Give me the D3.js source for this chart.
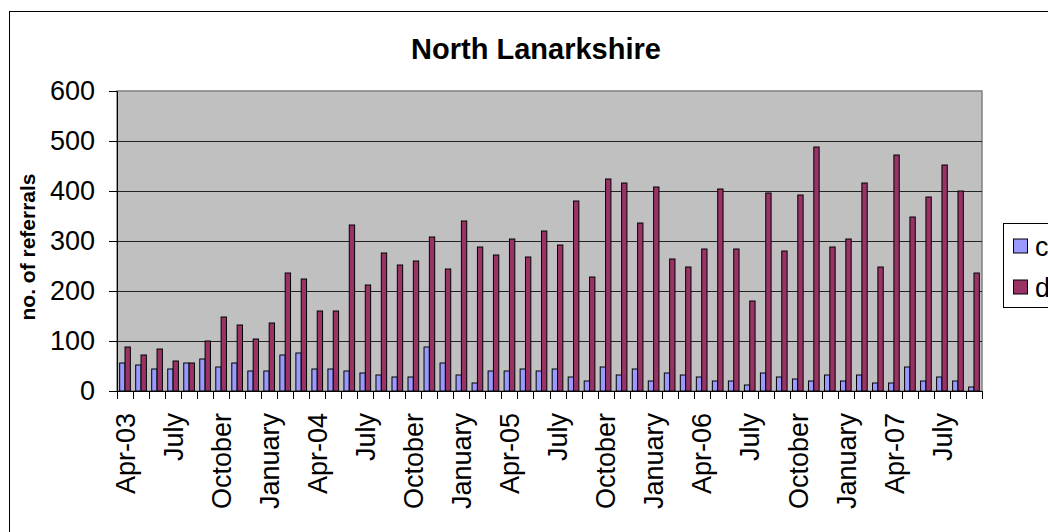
<!DOCTYPE html>
<html>
<head>
<meta charset="utf-8">
<script src="https://cdn.jsdelivr.net/npm/d3@7"></script>
<style>
  html, body { margin: 0; padding: 0; background: #fff; overflow: hidden; }
  svg { display: block; font-family: "Liberation Sans", Arial, sans-serif; }
</style>
</head>
<body>
<svg id="chart" width="1048" height="532"></svg>
<script>
const title = "North Lanarkshire";
const yAxisTitle = "no. of referrals";
const seriesNames = ["c", "d"];
const months = ["Apr-03","May","June","July","August","September","October","November","December","January","February","March",
  "Apr-04","May","June","July","August","September","October","November","December","January","February","March",
  "Apr-05","May","June","July","August","September","October","November","December","January","February","March",
  "Apr-06","May","June","July","August","September","October","November","December","January","February","March",
  "Apr-07","May","June","July","August","September"];
const categories = months.map((m, i) => i + ":" + m);
const seriesC = [56,52,44,44,56,64,48,56,40,40,72,76,44,44,40,
  36,32,28,28,88,56,32,16,40,40,44,40,44,28,20,
  48,32,44,20,36,32,28,20,20,12,36,28,24,20,32,
  20,32,16,16,48,20,28,20,8];
const seriesD = [88,72,84,60,56,100,148,132,104,136,236,224,160,160,332,
  212,276,252,260,308,244,340,288,272,304,268,320,292,380,228,
  424,416,336,408,264,248,284,404,284,180,396,280,392,488,288,
  304,416,248,472,348,388,452,400,236];
const yTicks = [0,100,200,300,400,500,600];
const colors = ["#9999FF", "#993366"];

const svg = d3.select("#chart");
const plot = {left: 117, top: 91, right: 982, bottom: 391};

// outer chart border
svg.append("rect").attr("x", 9.5).attr("y", 11.5).attr("width", 1200).attr("height", 700)
  .attr("fill", "#fff").attr("stroke", "#000").attr("stroke-width", 1);

const x = d3.scaleBand().domain(categories).range([plot.left, plot.right]).paddingInner(0).paddingOuter(0);
const xs = d3.scaleBand().domain([0,1]).range([0, x.bandwidth()]).paddingInner(0).paddingOuter(0.5);
const y = d3.scaleLinear().domain([0, 600]).range([plot.bottom, plot.top]);

// plot background
svg.append("rect").attr("x", plot.left).attr("y", plot.top)
  .attr("width", plot.right - plot.left).attr("height", plot.bottom - plot.top)
  .attr("fill", "#C0C0C0").attr("stroke", "#808080").attr("stroke-width", 1.5);

// gridlines
svg.append("g").selectAll("line").data(yTicks.filter(t => t > 0 && t < 600)).join("line")
  .attr("x1", plot.left).attr("x2", plot.right)
  .attr("y1", d => Math.round(y(d)) + 0.5).attr("y2", d => Math.round(y(d)) + 0.5)
  .attr("stroke", "#222").attr("stroke-width", 1);

// bars
const data = categories.map((c, i) => ({c, vals: [seriesC[i], seriesD[i]]}));
const groups = svg.append("g").selectAll("g").data(data).join("g")
  .attr("transform", d => `translate(${x(d.c)},0)`);
groups.selectAll("rect").data(d => d.vals.map((v, k) => ({v, k}))).join("rect")
  .attr("x", d => xs(d.k))
  .attr("y", d => y(d.v))
  .attr("width", xs.bandwidth())
  .attr("height", d => y(0) - y(d.v))
  .attr("fill", d => colors[d.k])
  .attr("stroke", "#000").attr("stroke-width", 1);

// y axis
const yAxis = d3.axisLeft(y).tickValues(yTicks).tickSize(8).tickPadding(14).tickFormat(d3.format("d"));
const gy = svg.append("g").attr("transform", `translate(${plot.left},0)`).call(yAxis);
gy.select(".domain").attr("stroke", "#000");
gy.selectAll(".tick line").attr("stroke", "#000");
gy.selectAll(".tick text").attr("font-size", 27).attr("fill", "#000")
  .attr("font-family", "Liberation Sans, Arial, sans-serif");

// x axis
const gx = svg.append("g").attr("transform", `translate(0,${plot.bottom})`);
gx.append("line").attr("x1", plot.left).attr("x2", plot.right).attr("y1", 0.5).attr("y2", 0.5).attr("stroke", "#000");
const boundaries = categories.map(c => x(c)).concat([plot.right]);
gx.selectAll("line.tk").data(boundaries).join("line").attr("class", "tk")
  .attr("x1", d => Math.round(d) + 0.5).attr("x2", d => Math.round(d) + 0.5)
  .attr("y1", 0).attr("y2", 8).attr("stroke", "#000");
gx.selectAll("text").data(categories.filter((c, i) => i % 3 === 0)).join("text")
  .attr("transform", d => `translate(${x(d) + x.bandwidth() / 2},22) rotate(-90)`)
  .attr("text-anchor", "end").attr("dy", "0.36em")
  .attr("font-size", 27).attr("fill", "#000")
  .text(d => d.split(":")[1]);

// title
svg.append("text").attr("x", 536).attr("y", 59).attr("text-anchor", "middle")
  .attr("font-size", 29).attr("font-weight", "bold").text(title);

// y axis title
svg.append("text").attr("transform", "translate(35,247) rotate(-90)")
  .attr("text-anchor", "middle").attr("font-size", 21).attr("font-weight", "bold").text(yAxisTitle);

// legend
const lg = svg.append("g");
lg.append("rect").attr("x", 1003.5).attr("y", 223.5).attr("width", 100).attr("height", 84)
  .attr("fill", "#fff").attr("stroke", "#000");
seriesNames.forEach((name, i) => {
  const cy = 246 + i * 41;
  lg.append("rect").attr("x", 1013.5).attr("y", cy - 7).attr("width", 14).attr("height", 14)
    .attr("fill", colors[i]).attr("stroke", "#000");
  lg.append("text").attr("x", 1035).attr("y", cy).attr("dy", "0.36em")
    .attr("font-size", 27).text(name);
});
</script>
</body>
</html>
